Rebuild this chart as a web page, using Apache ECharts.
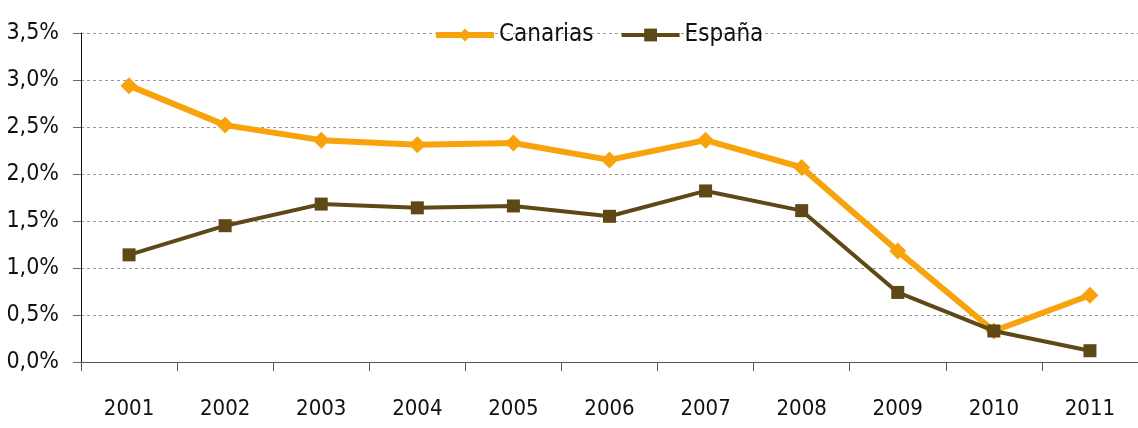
<!DOCTYPE html>
<html>
<head>
<meta charset="utf-8">
<script src="https://cdn.jsdelivr.net/npm/echarts@6/dist/echarts.min.js"></script>
<style>
  html, body { margin: 0; padding: 0; background: #fff; }
  #chart { width: 1138px; height: 428px; }
</style>
</head>
<body>
<div id="chart"></div>
<script>
var years = ['2001', '2002', '2003', '2004', '2005', '2006', '2007', '2008', '2009', '2010', '2011'];
var canarias = [2.94, 2.52, 2.36, 2.31, 2.33, 2.15, 2.36, 2.07, 1.18, 0.33, 0.71];
var espana = [1.14, 1.45, 1.68, 1.64, 1.66, 1.55, 1.82, 1.61, 0.74, 0.33, 0.12];

var fontName = '"Liberation Sans Narrow", "DejaVu Sans Condensed", "Liberation Sans", sans-serif';

var myChart = echarts.init(document.getElementById('chart'));
var option = {
    animation: false,
    textStyle: { fontFamily: fontName },
    legend: {
        top: 23,
        left: 433,
        itemWidth: 58,
        itemHeight: 16,
        itemGap: 26,
        padding: 0,
        textStyle: { fontSize: 24, color: '#111', fontFamily: fontName },
        data: [
            { name: 'Canarias', lineStyle: { width: 6 } },
            { name: 'España', lineStyle: { width: 4 } }
        ]
    },
    grid: {
        left: 81,
        right: 0,
        top: 33,
        bottom: 66
    },
    xAxis: {
        type: 'category',
        data: years,
        boundaryGap: true,
        axisLine: { lineStyle: { color: '#555', width: 1 } },
        axisTick: { show: true, length: 9, lineStyle: { color: '#555' } },
        axisLabel: { color: '#111', fontSize: 22, margin: 36, fontFamily: fontName }
    },
    yAxis: {
        type: 'value',
        min: 0,
        max: 3.5,
        interval: 0.5,
        axisLine: { show: true, lineStyle: { color: '#111', width: 1 } },
        axisTick: { show: true, length: 8, lineStyle: { color: '#666' } },
        splitLine: { show: true, lineStyle: { color: '#999', type: [3, 3] } },
        axisLabel: {
            color: '#111',
            fontSize: 23,
            margin: 22,
            fontFamily: fontName,
            formatter: function (v) { return v.toFixed(1).replace('.', ',') + '%'; }
        }
    },
    series: [
        {
            name: 'Canarias',
            type: 'line',
            data: canarias,
            symbol: 'diamond',
            symbolSize: 17,
            lineStyle: { color: '#F8A30B', width: 6 },
            itemStyle: { color: '#F8A30B' },
            z: 2
        },
        {
            name: 'España',
            type: 'line',
            data: espana,
            symbol: 'rect',
            symbolSize: 13,
            lineStyle: { color: '#5E4815', width: 4 },
            itemStyle: { color: '#5E4815' },
            z: 3
        }
    ]
};
myChart.setOption(option);
</script>
</body>
</html>
